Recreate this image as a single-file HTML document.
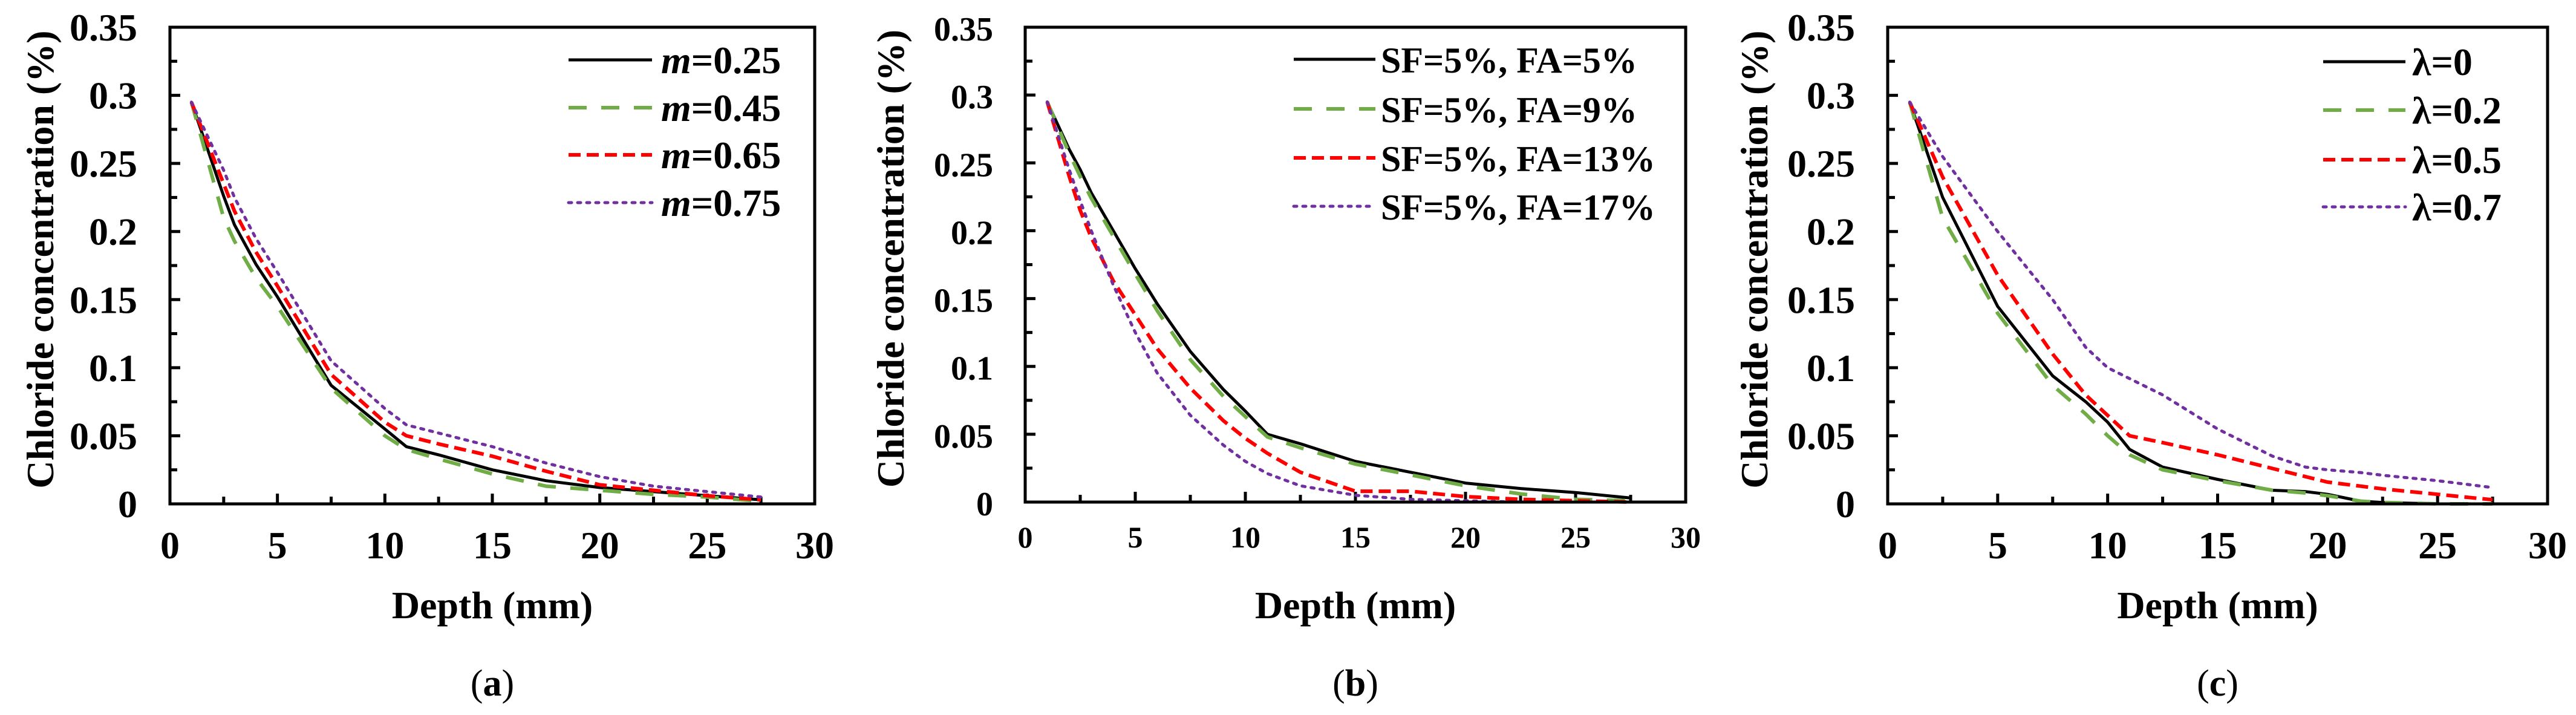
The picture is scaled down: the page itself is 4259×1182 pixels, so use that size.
<!DOCTYPE html>
<html><head><meta charset="utf-8">
<style>
html,body{margin:0;padding:0;background:#fff;}
svg{display:block;}
text{font-family:"Liberation Serif",serif;font-weight:bold;fill:#000;}
</style></head>
<body>
<svg id="fig" width="4259" height="1182" viewBox="0 0 4259 1182" xmlns="http://www.w3.org/2000/svg"></svg>
<script>
// ---- Shared data ----
const xTicks = [0, 5, 10, 15, 20, 25, 30];
const yTicks = [0, 0.05, 0.1, 0.15, 0.2, 0.25, 0.3, 0.35];
const yTickLabels = ["0", "0.05", "0.1", "0.15", "0.2", "0.25", "0.3", "0.35"];

// ---- Panel (a) data ----
const aX = [1, 2.5, 3, 4, 5, 7.5, 10, 11, 12.5, 15, 17.5, 20, 22.5, 25, 27.5];
const aM025 = [0.295, 0.226, 0.205, 0.176, 0.152, 0.087, 0.055, 0.042, 0.036, 0.025, 0.017, 0.012, 0.009, 0.006, 0.003];
const aM045 = [0.295, 0.210, 0.193, 0.166, 0.145, 0.085, 0.050, 0.040, 0.033, 0.022, 0.013, 0.010, 0.007, 0.005, 0.002];
const aM065 = [0.295, 0.235, 0.215, 0.185, 0.160, 0.095, 0.060, 0.050, 0.044, 0.035, 0.024, 0.014, 0.010, 0.006, 0.003];
const aM075 = [0.295, 0.245, 0.225, 0.195, 0.170, 0.105, 0.070, 0.058, 0.052, 0.042, 0.030, 0.020, 0.013, 0.009, 0.005];
const aLabels = ["=0.25", "=0.45", "=0.65", "=0.75"];

// ---- Panel (b) data ----
const bX = [1, 2, 2.5, 3, 4, 5, 6, 7.5, 9, 10, 11, 12.5, 15, 17.5, 20, 22.5, 25, 27.5];
const bFA5  = [0.295, 0.260, 0.245, 0.228, 0.200, 0.172, 0.146, 0.111, 0.083, 0.067, 0.050, 0.043, 0.030, 0.022, 0.014, 0.010, 0.007, 0.003];
const bFA9  = [0.295, 0.257, 0.240, 0.224, 0.196, 0.168, 0.141, 0.105, 0.078, 0.063, 0.048, 0.040, 0.028, 0.020, 0.012, 0.006, 0.002, 0.001];
const bFA13 = [0.295, 0.240, 0.215, 0.195, 0.163, 0.138, 0.113, 0.084, 0.060, 0.047, 0.036, 0.022, 0.008, 0.008, 0.004, 0.002, 0.001, 0.000];
const bFA17 = [0.295, 0.245, 0.222, 0.200, 0.160, 0.125, 0.095, 0.064, 0.042, 0.030, 0.021, 0.012, 0.005, 0.002, 0.001, 0.000, 0.000, 0.000];
const bLabels = ["SF=5%, FA=5%", "SF=5%, FA=9%", "SF=5%, FA=13%", "SF=5%, FA=17%"];

// ---- Panel (c) data ----
const cX = [1, 2.5, 5, 7.5, 9, 10, 11, 12.5, 15, 17.5, 19, 20, 21.5, 22.5, 25, 27.5];
const cL0  = [0.295, 0.225, 0.145, 0.094, 0.075, 0.060, 0.040, 0.027, 0.018, 0.010, 0.009, 0.007, 0.002, 0.001, 0.000, 0.000];
const cL02 = [0.295, 0.210, 0.140, 0.087, 0.066, 0.050, 0.036, 0.025, 0.017, 0.010, 0.008, 0.006, 0.002, 0.001, 0.000, 0.000];
const cL05 = [0.295, 0.240, 0.168, 0.110, 0.080, 0.065, 0.050, 0.045, 0.036, 0.026, 0.020, 0.016, 0.013, 0.011, 0.007, 0.003];
const cL07 = [0.295, 0.255, 0.200, 0.150, 0.115, 0.100, 0.092, 0.080, 0.055, 0.035, 0.027, 0.025, 0.023, 0.021, 0.017, 0.012];
const cLabels = ["λ=0", "λ=0.2", "λ=0.5", "λ=0.7"];

const NS = "http://www.w3.org/2000/svg";
const svg = document.getElementById("fig");
function el(tag, attrs, parent) {
  const e = document.createElementNS(NS, tag);
  for (const k in attrs) e.setAttribute(k, attrs[k]);
  (parent || svg).appendChild(e);
  return e;
}
const styles = [
  {stroke: "#000000", w: 5, dash: ""},
  {stroke: "#70ad47", w: 6, dash: "30 24"},
  {stroke: "#ff0000", w: 6, dash: "20 10"},
  {stroke: "#7030a0", w: 5, dash: "5 10"}
];

function panel(cfg) {
  const g = el("g", {});
  
  
  const {L, R, T, B} = cfg;
  const sx = v => L + (v / 30) * (R - L);
  const sy = v => B - (v / 0.35) * (B - T);
  for (let i = 1; i < 12; i++) {
    const x = sx(i * 2.5), len = (i % 2 === 0) ? 17 : 12;
    const t = el("line", {x1: x, x2: x, y1: B, y2: B - len, stroke: "#000", "stroke-width": 5}, g);
    
    
  }
  for (let i = 1; i < 14; i++) {
    const y = sy(i * 0.025), len = (i % 2 === 0) ? 17 : 12;
    const t = el("line", {x1: L, x2: L + len, y1: y, y2: y, stroke: "#000", "stroke-width": 5}, g);
    
    
  }
  cfg.series.forEach((ys, si) => {
    const st = styles[si];
    const d = cfg.xs.map((x, i) => (i ? "L" : "M") + sx(x).toFixed(1) + "," + sy(ys[i]).toFixed(1)).join(" ");
    const p = el("path", {d: d, fill: "none", stroke: st.stroke, "stroke-width": st.w,
      "stroke-dasharray": st.dash, "stroke-linejoin": "round", "stroke-linecap": si === 3 ? "round" : "butt"}, g);
    
    
  });
  const fr = el("rect", {x: L, y: T, width: R - L, height: B - T, fill: "none", stroke: "#000", "stroke-width": 5}, g);
  
  
  xTicks.forEach(v => {
    const t = el("text", {x: sx(v), y: cfg.xLabY, "text-anchor": "middle", "font-size": cfg.xFs}, g);
    t.textContent = String(v);
    
    
  });
  yTicks.forEach((v, i) => {
    const t = el("text", {x: cfg.yLabX, y: sy(v) + 22, "text-anchor": "end", "font-size": cfg.yFs}, g);
    t.textContent = yTickLabels[i];
    
    
  });
  const xt = el("text", {x: (L + R) / 2, y: 1022, "text-anchor": "middle", "font-size": 64}, g);
  xt.textContent = "Depth (mm)";
  
  
  const yt = el("text", {x: 0, y: 0, "text-anchor": "middle", "font-size": 64,
    transform: "translate(" + cfg.yTitleX + "," + ((T + B) / 2 - 10) + ") rotate(-90)"}, g);
  yt.textContent = "Chloride concentration (%)";
  
  
  cfg.legendRows.forEach((ry, i) => {
    const st = styles[i];
    const ln = el("line", {x1: cfg.legL1, x2: cfg.legL2, y1: ry, y2: ry, stroke: st.stroke, "stroke-width": st.w,
      "stroke-dasharray": st.dash, "stroke-linecap": i === 3 ? "round" : "butt"}, g);
    
    
    const t = el("text", {x: cfg.legT, y: ry + 22, "font-size": cfg.legFs}, g);
    if (cfg.italicM) {
      const m = el("tspan", {"font-style": "italic"}, t);
      m.textContent = "m";
      const r = el("tspan", {}, t);
      r.textContent = cfg.labels[i];
    } else {
      t.textContent = cfg.labels[i];
    }
    
    
  });
  const cap = el("text", {x: (L + R) / 2, y: 1150, "text-anchor": "middle", "font-size": 62}, g);
  cap.style.fontWeight = "normal";
  const o1 = el("tspan", {"font-weight": "normal"}, cap); o1.textContent = "(";
  const o2 = el("tspan", {"font-weight": "bold"}, cap); o2.textContent = cfg.cap;
  const o3 = el("tspan", {"font-weight": "normal"}, cap); o3.textContent = ")";
  
  
}

panel({name: "panel-a", L: 281, R: 1347, T: 45, B: 833, xs: aX, series: [aM025, aM045, aM065, aM075],
  xLabY: 923, xFs: 64, yLabX: 227, yFs: 64, yTitleX: 88,
  legendRows: [99, 178, 256, 335], legL1: 940, legL2: 1078, legT: 1093, legFs: 64, labels: aLabels, italicM: true, cap: "a"});
panel({name: "panel-b", L: 1695, R: 2787, T: 45, B: 830, xs: bX, series: [bFA5, bFA9, bFA13, bFA17],
  xLabY: 905, xFs: 50, yLabX: 1642, yFs: 56, yTitleX: 1494,
  legendRows: [98, 180, 261, 341], legL1: 2139, legL2: 2274, legT: 2283, legFs: 60, labels: bLabels, italicM: false, cap: "b"});
panel({name: "panel-c", L: 3121, R: 4212, T: 45, B: 833, xs: cX, series: [cL0, cL02, cL05, cL07],
  xLabY: 923, xFs: 64, yLabX: 3067, yFs: 64, yTitleX: 2922,
  legendRows: [102, 182, 264, 342], legL1: 3841, legL2: 3977, legT: 3988, legFs: 64, labels: cLabels, italicM: false, cap: "c"});
</script>
</body></html>
